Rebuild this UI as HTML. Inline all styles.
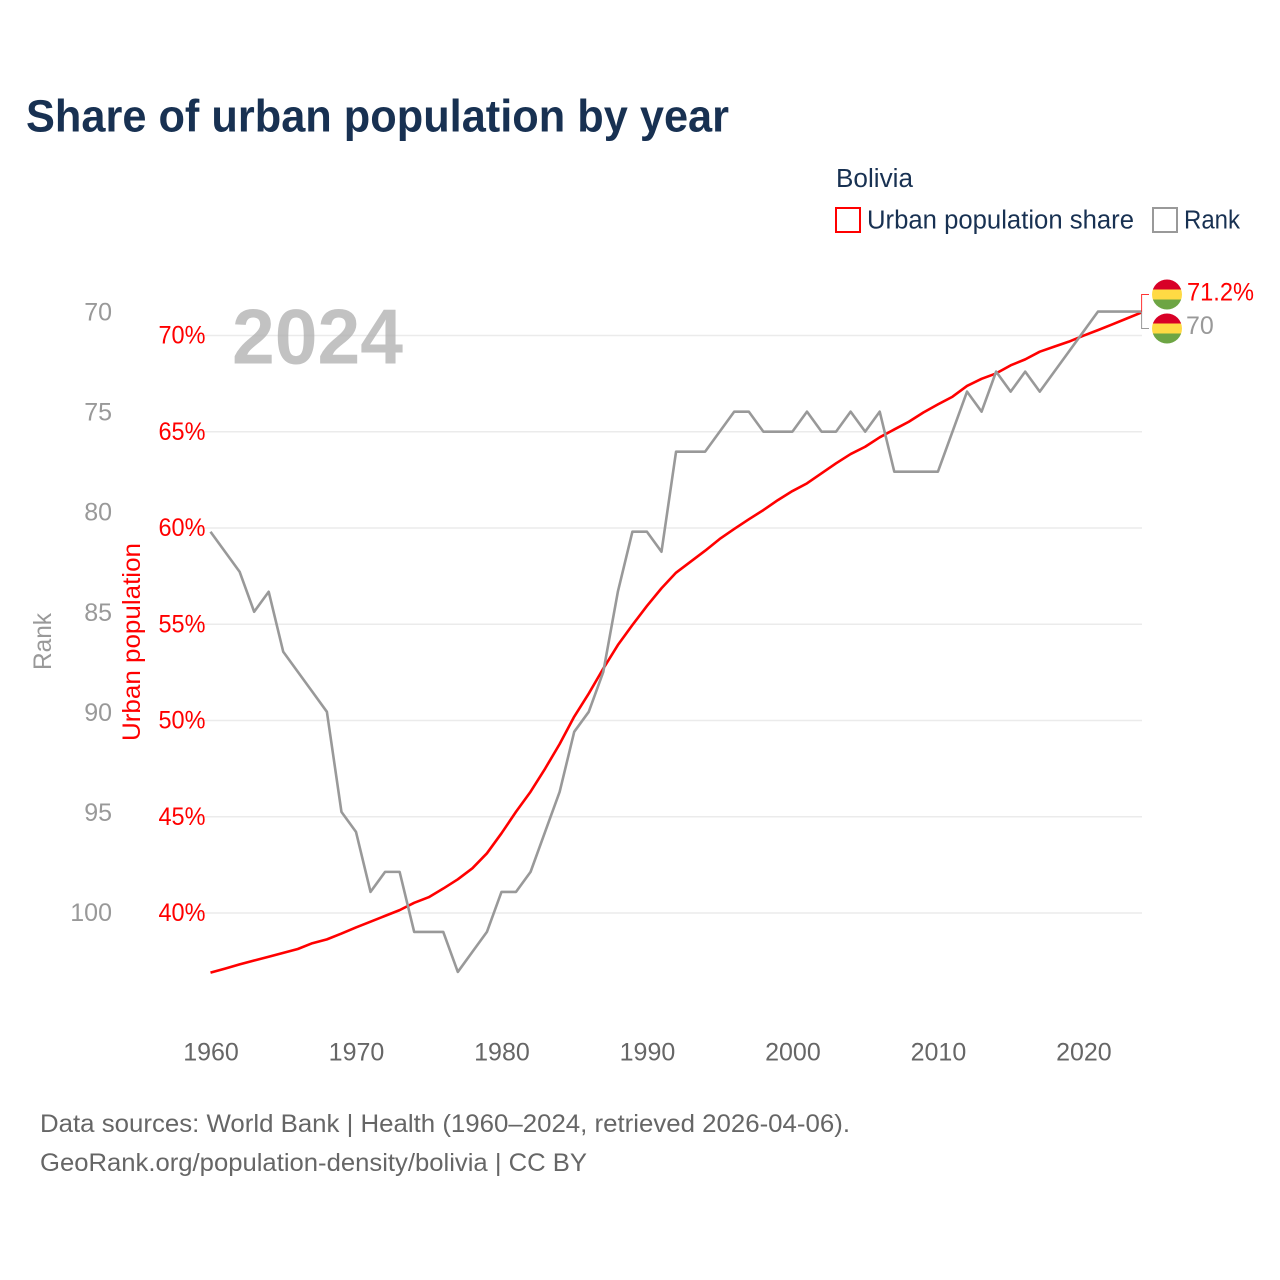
<!DOCTYPE html>
<html lang="en">
<head>
<meta charset="utf-8">
<title>Share of urban population by year</title>
<style>
  html, body { margin: 0; padding: 0; background: #ffffff; }
  svg { display: block; font-family: "Liberation Sans", sans-serif; }
</style>
</head>
<body>
<svg id="chart" xmlns="http://www.w3.org/2000/svg" width="1280" height="1280" viewBox="0 0 1280 1280">
  <rect x="0" y="0" width="1280" height="1280" fill="#ffffff"/>
  <text x="26" y="131.5" font-size="45" font-weight="700" fill="#183152" textLength="703" lengthAdjust="spacingAndGlyphs">Share of urban population by year</text>
  <text x="836" y="187" font-size="25.5" fill="#183152" textLength="77" lengthAdjust="spacingAndGlyphs">Bolivia</text>
  <g>
    <rect x="836" y="208" width="24" height="24" fill="none" stroke="#ff0000" stroke-width="2"/>
    <text x="867" y="228.5" font-size="25.5" fill="#183152" textLength="267" lengthAdjust="spacingAndGlyphs">Urban population share</text>
  </g>
  <g>
    <rect x="1153" y="208" width="24" height="24" fill="none" stroke="#999999" stroke-width="2"/>
    <text x="1184" y="228.5" font-size="25.5" fill="#183152" textLength="56" lengthAdjust="spacingAndGlyphs">Rank</text>
  </g>
  <text transform="translate(51 670) rotate(-90)" font-size="25" fill="#999999" textLength="57" lengthAdjust="spacingAndGlyphs">Rank</text>
  <text transform="translate(140 741) rotate(-90)" font-size="25" fill="#ff0000" textLength="198" lengthAdjust="spacingAndGlyphs">Urban population</text>
  <g id="grid"></g>
  <text x="232" y="363.5" font-size="78" font-weight="700" fill="#aaaaaa" fill-opacity="0.72" textLength="171" lengthAdjust="spacingAndGlyphs">2024</text>
  <g id="rank-ticks"></g>
  <g id="urban-ticks"></g>
  <g id="year-ticks"></g>
  <g id="series"></g>
  <g id="end-labels"></g>
  <defs>
    <clipPath id="flag-clip-urban"><circle cx="1167" cy="294.5" r="15"/></clipPath>
    <clipPath id="flag-clip-rank"><circle cx="1167" cy="328.5" r="15"/></clipPath>
  </defs>
  <g clip-path="url(#flag-clip-urban)">
    <rect x="1152" y="279.5" width="30" height="10" fill="#d80027"/>
    <rect x="1152" y="289.5" width="30" height="10" fill="#ffda44"/>
    <rect x="1152" y="299.5" width="30" height="10" fill="#6da544"/>
  </g>
  <g clip-path="url(#flag-clip-rank)">
    <rect x="1152" y="313.5" width="30" height="10" fill="#d80027"/>
    <rect x="1152" y="323.5" width="30" height="10" fill="#ffda44"/>
    <rect x="1152" y="333.5" width="30" height="10" fill="#6da544"/>
  </g>
  <text x="40" y="1132" font-size="25" fill="#666666" textLength="810" lengthAdjust="spacingAndGlyphs">Data sources: World Bank | Health (1960–2024, retrieved 2026-04-06).</text>
  <text x="40" y="1171" font-size="25" fill="#666666" textLength="547" lengthAdjust="spacingAndGlyphs">GeoRank.org/population-density/bolivia | CC BY</text>
</svg>
<script>
const years = [1960,1961,1962,1963,1964,1965,1966,1967,1968,1969,1970,1971,1972,1973,1974,1975,1976,1977,1978,1979,1980,1981,1982,1983,1984,1985,1986,1987,1988,1989,1990,1991,1992,1993,1994,1995,1996,1997,1998,1999,2000,2001,2002,2003,2004,2005,2006,2007,2008,2009,2010,2011,2012,2013,2014,2015,2016,2017,2018,2019,2020,2021,2022,2023,2024];
const urbanShare = [36.9,37.11,37.33,37.53,37.73,37.93,38.13,38.43,38.63,38.93,39.25,39.55,39.85,40.15,40.53,40.82,41.27,41.75,42.32,43.1,44.14,45.26,46.3,47.5,48.78,50.2,51.4,52.7,53.92,54.96,55.95,56.87,57.68,58.25,58.82,59.43,59.95,60.45,60.93,61.45,61.92,62.32,62.84,63.36,63.84,64.22,64.71,65.12,65.52,66.0,66.42,66.82,67.38,67.75,68.03,68.45,68.76,69.16,69.42,69.68,69.99,70.28,70.58,70.89,71.2];
const rankValues = [81,82,83,85,84,87,88,89,90,95,96,99,98,98,101,101,101,103,102,101,99,99,98,96,94,91,90,88,84,81,81,82,77,77,77,76,75,75,76,76,76,75,76,76,75,76,75,78,78,78,78,76,74,75,73,74,73,74,73,72,71,70,70,70,70];
const urbanTicks = [40,45,50,55,60,65,70];
const rankTicks = [70,75,80,85,90,95,100];
const yearTicks = [1960,1970,1980,1990,2000,2010,2020];

const NS = 'http://www.w3.org/2000/svg';
function xScale(year) { return 210.5 + (year - 1960) * (1141.6 - 210.5) / 64; }
function urbanScale(v) { return 913 - (v - 40) * 19.25; }
function rankScale(r) { return 311.6 + (r - 70) * 20.01; }
function make(parent, tag, attrs, txt) {
  const el = document.createElementNS(NS, tag);
  for (const k in attrs) el.setAttribute(k, attrs[k]);
  if (txt !== undefined) el.textContent = txt;
  parent.appendChild(el);
  return el;
}
function linePath(values, yScale) {
  return values.map(function (v, i) {
    return (i ? 'L' : 'M') + xScale(years[i]).toFixed(2) + ' ' + yScale(v).toFixed(2);
  }).join(' ');
}

const grid = document.getElementById('grid');
const rankG = document.getElementById('rank-ticks');
const urbanG = document.getElementById('urban-ticks');
const yearG = document.getElementById('year-ticks');
const seriesG = document.getElementById('series');
const endG = document.getElementById('end-labels');

urbanTicks.forEach(function (t) {
  const y = urbanScale(t);
  const line = make(grid, 'line', { x1: 190, x2: 1142, y1: y, y2: y, stroke: '#ebebeb', 'stroke-width': 1.5 });
  
  
  const label = make(urbanG, 'text', { x: 205.5, y: y + 8, 'text-anchor': 'end', 'font-size': 25, fill: '#ff0000', textLength: 47, lengthAdjust: 'spacingAndGlyphs' }, t + '%');
  
  
});

rankTicks.forEach(function (t) {
  const label = make(rankG, 'text', { x: 112, y: rankScale(t) + 9, 'text-anchor': 'end', 'font-size': 25, fill: '#999999' }, String(t));
  
  
});

yearTicks.forEach(function (t) {
  const label = make(yearG, 'text', { x: xScale(t) + 0.5, y: 1060.5, 'text-anchor': 'middle', 'font-size': 25, fill: '#666666' }, String(t));
  
  
});

const urbanLine = make(seriesG, 'path', { d: linePath(urbanShare, urbanScale), fill: 'none', stroke: '#ff0000', 'stroke-width': 2.6, 'stroke-linejoin': 'round' });


const rankLine = make(seriesG, 'path', { d: linePath(rankValues, rankScale), fill: 'none', stroke: '#999999', 'stroke-width': 2.6, 'stroke-linejoin': 'round' });



const lastIndex = years.length - 1;
const endX = xScale(years[lastIndex]);
const urbanLeader = make(endG, 'path', { d: 'M' + endX + ' ' + urbanScale(urbanShare[lastIndex]) + ' V294.5 H1149', fill: 'none', stroke: '#ff0000', 'stroke-width': 1, opacity: 0.8 });


const rankLeader = make(endG, 'path', { d: 'M' + endX + ' ' + rankScale(rankValues[lastIndex]) + ' V328.5 H1149', fill: 'none', stroke: '#999999', 'stroke-width': 1 });


const urbanEnd = make(endG, 'text', { x: 1187, y: 300.5, 'font-size': 25, fill: '#ff0000', textLength: 67, lengthAdjust: 'spacingAndGlyphs' }, urbanShare[lastIndex].toFixed(1) + '%');


const rankEnd = make(endG, 'text', { x: 1186, y: 334, 'font-size': 25, fill: '#999999' }, String(rankValues[lastIndex]));


</script>
</body>
</html>
